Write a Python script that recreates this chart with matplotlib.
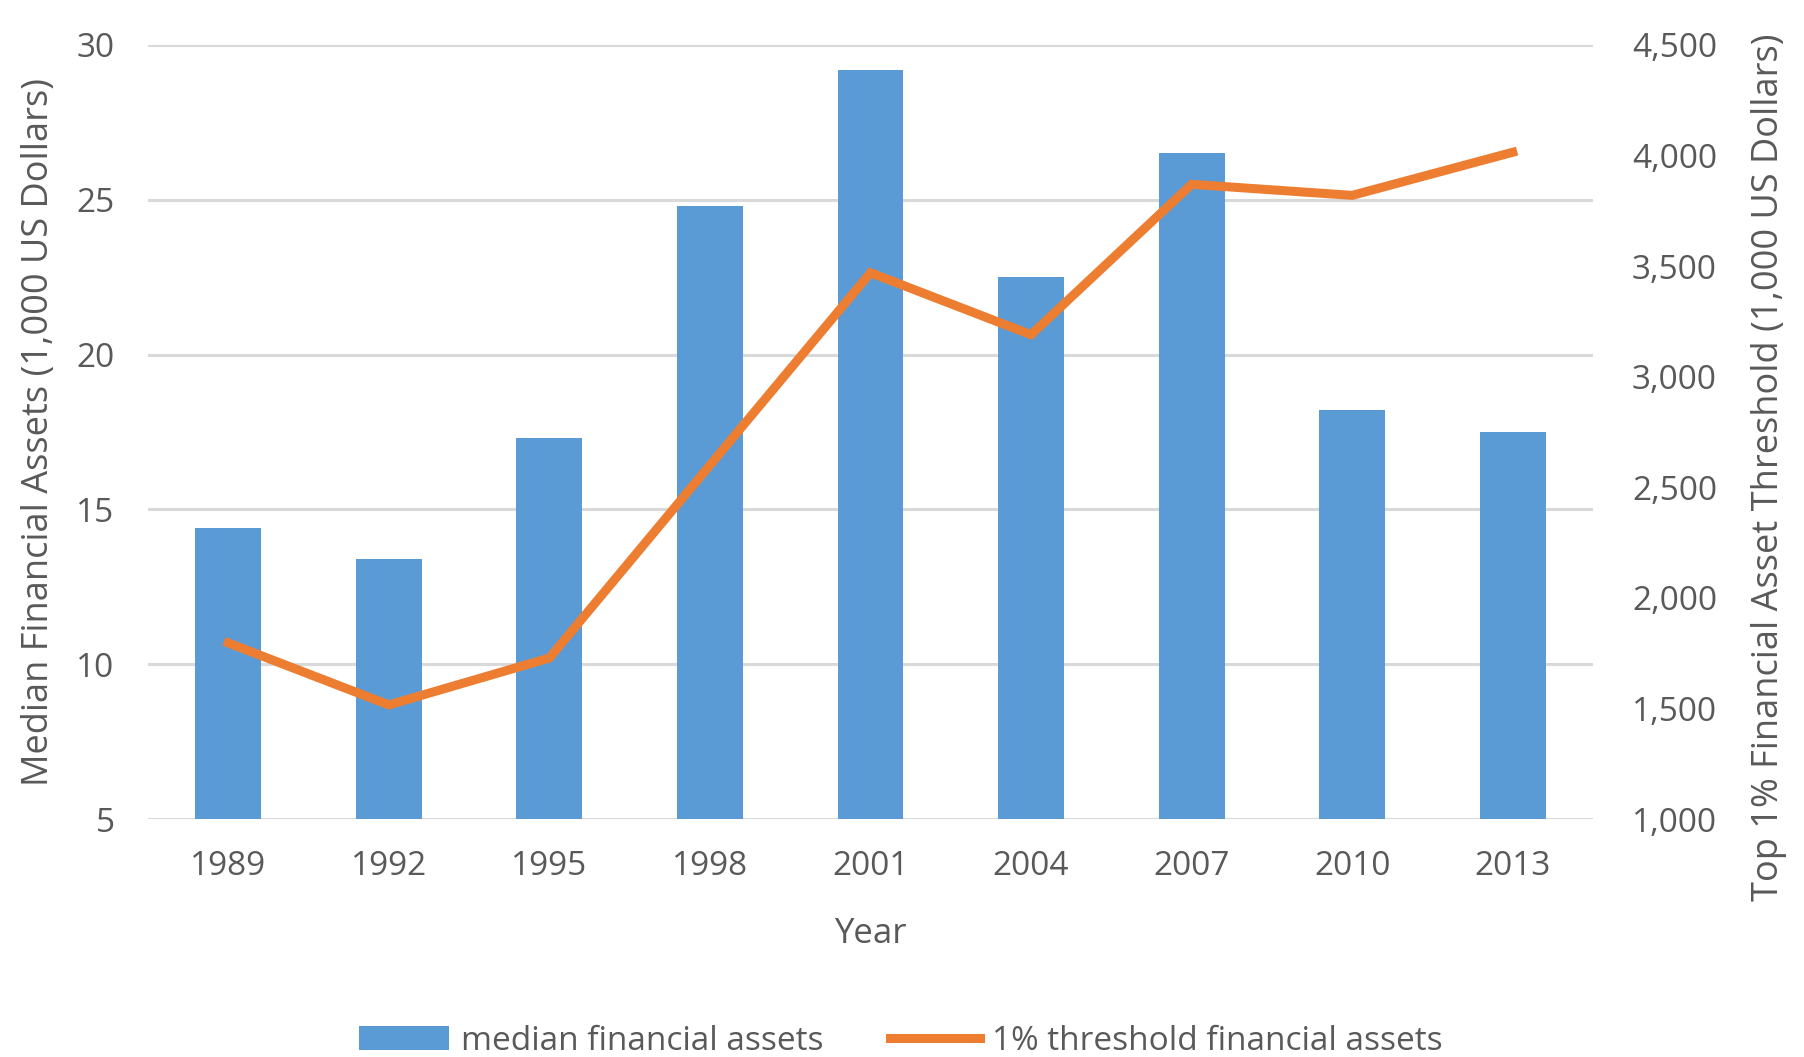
import matplotlib
matplotlib.use('Agg')
import matplotlib.pyplot as plt
from matplotlib.ticker import FuncFormatter

plt.rcParams['font.family'] = ['Open Sans', 'DejaVu Sans']

years = ['1989', '1992', '1995', '1998', '2001', '2004', '2007', '2010', '2013']
median_assets = [14.4, 13.4, 17.3, 24.8, 29.2, 22.5, 26.5, 18.2, 17.5]
threshold_assets = [1796, 1516, 1728, 2600, 3470, 3190, 3870, 3820, 4015]

text_color = '#595959'
bar_color = '#5B9BD5'
line_color = '#ED7D31'
grid_color = '#D9D9D9'
tick_fs = 24
label_fs = 26

fig = plt.figure(figsize=(18.04, 10.57), dpi=100)
ax = fig.add_axes([148 / 1804, 1 - 819 / 1057, (1593 - 148) / 1804, (819 - 45) / 1057])

x = range(len(years))
bars = ax.bar(x, median_assets, width=0.41, color=bar_color, zorder=2,
              label='median financial assets')
ax.set_ylim(5, 30)
ax.set_xlim(-0.5, len(years) - 0.5)
ax.set_yticks([5, 10, 15, 20, 25, 30])
ax.set_xticks(list(x))
ax.set_xticklabels(years)
ax.yaxis.grid(True, color=grid_color, linewidth=2.2, zorder=0)
ax.set_axisbelow(True)
ax.tick_params(axis='both', length=0, labelsize=tick_fs, labelcolor=text_color)
ax.tick_params(axis='y', pad=24)
ax.tick_params(axis='x', pad=22)
for s in ax.spines.values():
    s.set_visible(False)
ax.set_ylabel('Median Financial Assets (1,000 US Dollars)', fontsize=label_fs, color=text_color, labelpad=14)
ax.set_xlabel('Year', fontsize=label_fs - 1, color=text_color, labelpad=25)

ax2 = ax.twinx()
line, = ax2.plot(x, threshold_assets, color=line_color, linewidth=6.5, zorder=3,
                 solid_joinstyle='miter', label='1% threshold financial assets')
ax2.set_ylim(1000, 4500)
ax2.set_yticks(range(1000, 4501, 500))
ax2.yaxis.set_major_formatter(FuncFormatter(lambda v, p: f'{int(v):,}'))
ax2.tick_params(axis='y', length=0, labelsize=tick_fs, labelcolor=text_color, pad=28)
for s in ax2.spines.values():
    s.set_visible(False)
ax2.set_ylabel('Top 1% Financial Asset Threshold (1,000 US Dollars)', fontsize=label_fs,
               color=text_color)
ax2.yaxis.set_label_coords(1.109, 0.454)

fig.legend([bars, line], ['median financial assets', '1% threshold financial assets'],
           loc='center', bbox_to_anchor=(901 / 1804, 1 - 1041 / 1057), ncol=2,
           frameon=False, fontsize=label_fs - 2, labelcolor=text_color, handlelength=2.7,
           handletextpad=0.35, columnspacing=2.0)

fig.savefig('out.png', dpi=100, facecolor='white')
